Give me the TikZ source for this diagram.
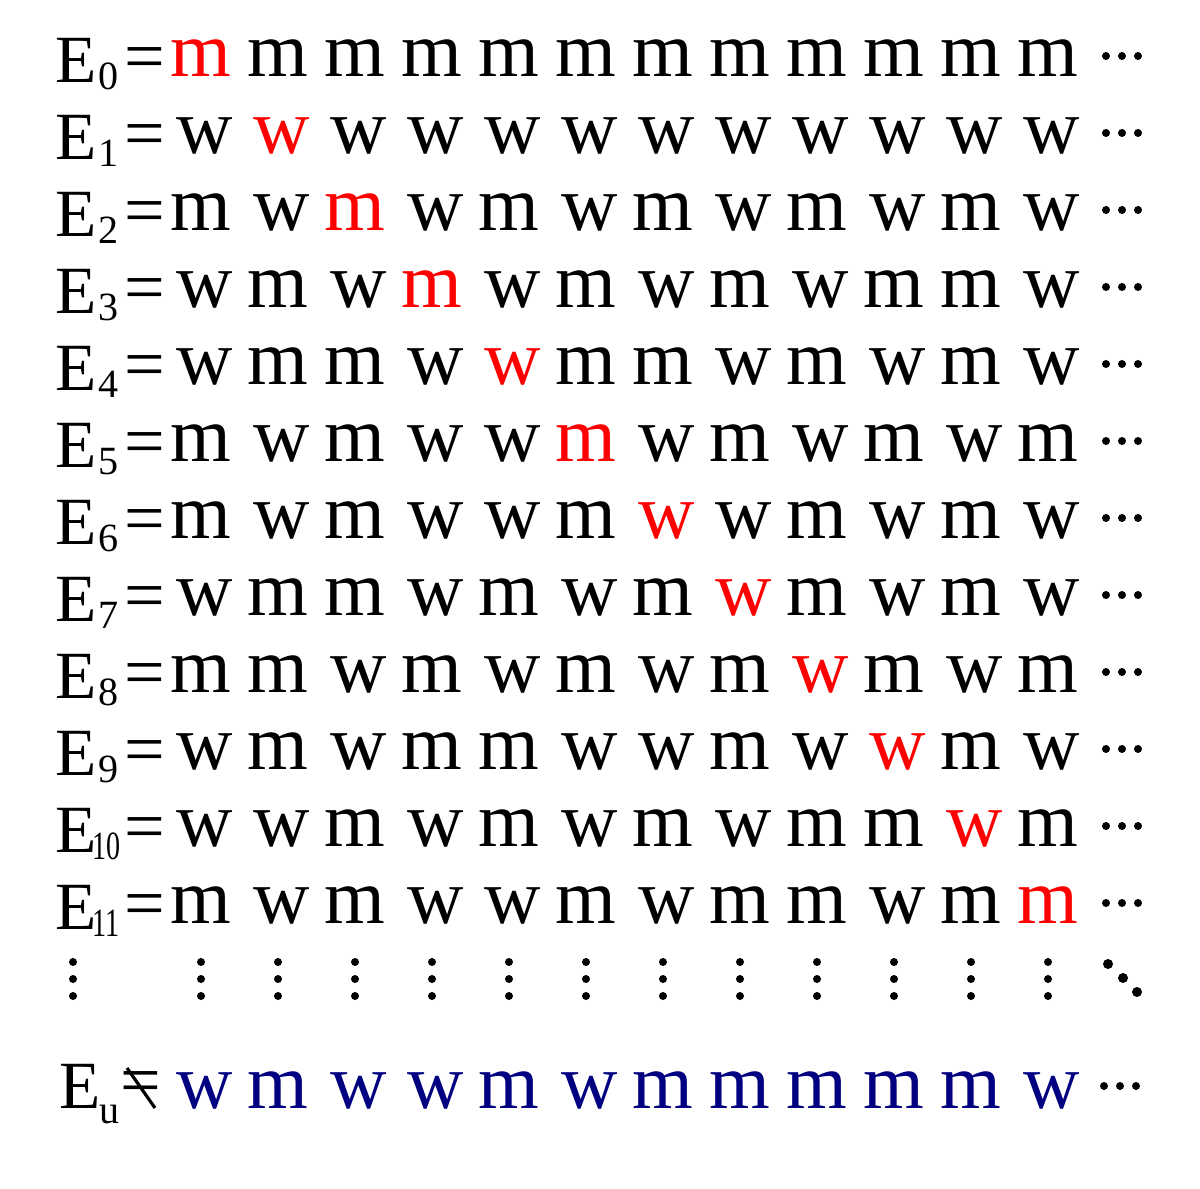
\documentclass[tikz,border=0pt]{standalone}
\usepackage{fontspec}
\setmainfont{Liberation Serif}
\usepackage{graphicx}

\definecolor{azul}{RGB}{0,0,128}

\begin{document}
\begin{tikzpicture}[x=0.01cm, y=-0.01cm,
    letra/.style={anchor=base, inner sep=0pt, font=\fontsize{22.2}{24}\selectfont},
    nombre/.style={anchor=base west, inner sep=0pt, font=\fontsize{19.2}{20}\selectfont},
    indice/.style={anchor=base west, inner sep=0pt, font=\fontsize{11.4}{12}\selectfont},
    igual/.style={anchor=center, inner sep=0pt, font=\fontsize{20.5}{22}\selectfont}]

    % Marco
    \useasboundingbox (0,0) rectangle (1200,1189);

    % Filas E_0 ... E_11
    \foreach \f/\fila in {
        0/{m,m,m,m,m,m,m,m,m,m,m,m},
        1/{w,w,w,w,w,w,w,w,w,w,w,w},
        2/{m,w,m,w,m,w,m,w,m,w,m,w},
        3/{w,m,w,m,w,m,w,m,w,m,m,w},
        4/{w,m,m,w,w,m,m,w,m,w,m,w},
        5/{m,w,m,w,w,m,w,m,w,m,w,m},
        6/{m,w,m,w,w,m,w,w,m,w,m,w},
        7/{w,m,m,w,m,w,m,w,m,w,m,w},
        8/{m,m,w,m,w,m,w,m,w,m,w,m},
        9/{w,m,w,m,m,w,w,m,w,w,m,w},
        10/{w,w,m,w,m,w,m,w,m,m,w,m},
        11/{m,w,m,w,w,m,w,m,m,w,m,m}} {
      \pgfmathsetmacro{\yb}{77+77*\f}
      \node[nombre] (E\f) at (55,\yb+6) {E};
      \ifnum\f<10
        \node[indice] (S\f) at (98,\yb+13) {\f};
      \else
        \node[indice] (S\f) at (92,\yb+13) {\scalebox{0.7}[1]{\f}};
      \fi
      \node[igual] (I\f) at (144.5,\yb-13) {=};
      \foreach \c [count=\j from 0] in \fila {
        \ifnum\j=\f \def\tinta{red}\else\def\tinta{black}\fi
        \if\c w\def\dx{4}\else\def\dx{0}\fi
        \node[letra, text=\tinta] (L\f-\j) at (201+77*\j+\dx,\yb) {\c};
      }
      % Puntos suspensivos
      \foreach \k in {-1,0,1}
        \fill (1122+16*\k,\yb-21) circle[radius=0.04cm];
    }

    % Puntos verticales
    \foreach \px in {73,201,278,355,432,509,586,663,740,817,894,971,1048}
      \foreach \py in {962,979,996}
        \fill (\px,\py) circle[radius=0.04cm];
    % Diagonal
    \fill (1108,964) circle[radius=0.05cm];
    \fill (1123,978) circle[radius=0.05cm];
    \fill (1137,992) circle[radius=0.05cm];

    % Fila E_u
    \node[nombre] (Eu) at (59,1108) {E};
    \node[indice] (Su) at (99,1123) {u};
    \node[igual] (Ne) at (141,1088) {=};
    \draw[line width=0.9pt] ([shift={(-14,-20)}]Ne.center) -- ([shift={(14,20)}]Ne.center);
    \foreach \c [count=\j from 0] in {w,m,w,w,m,w,m,m,m,m,m,w} {
      \if\c w\def\dx{4}\else\def\dx{0}\fi
      \node[letra, text=azul] (U\j) at (201+77*\j+\dx,1108) {\c};
    }
    \foreach \k in {-1,0,1}
      \fill (1120+16*\k,1086) circle[radius=0.04cm];

\end{tikzpicture}
\end{document}
